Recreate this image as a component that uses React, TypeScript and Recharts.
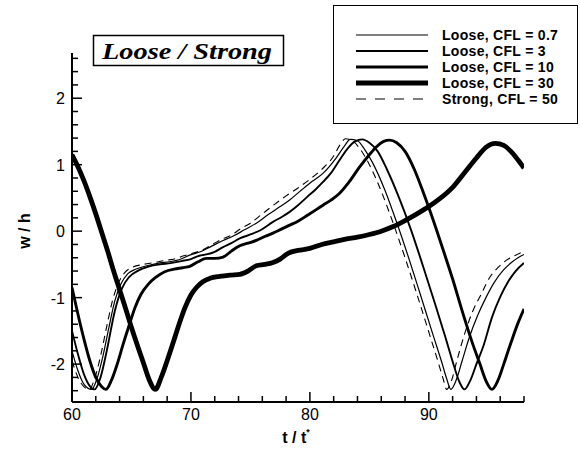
import { Legend, Line, LineChart, XAxis, YAxis } from "recharts";

// Deflection w/h versus t/t* — loose coupling at several CFL numbers vs strong coupling.
// Points are [t/t*, w/h].

const strong50 = [
  [60, -1.95], [60.5, -2.2], [61, -2.34], [61.45, -2.38], [61.9, -2.22], [62.4, -1.88], [62.9, -1.45],
  [63.4, -1.05], [63.9, -0.78], [64.4, -0.63], [65, -0.55], [66, -0.5], [67, -0.47], [67.8, -0.44],
  [68.6, -0.42], [69.4, -0.37], [70.2, -0.33], [71, -0.28], [71.8, -0.2], [72.6, -0.12], [73.4, -0.06],
  [74.2, 0.04], [75, 0.12], [76, 0.26], [77, 0.4], [78, 0.53], [79, 0.65], [80, 0.78], [81, 0.93],
  [82, 1.13], [82.5, 1.29], [83, 1.39], [83.5, 1.37], [84.2, 1.24], [85, 1.0], [86, 0.6], [87, 0.12],
  [88, -0.4], [89, -0.95], [90, -1.52], [90.8, -1.98], [91.2, -2.22], [91.5, -2.38], [91.9, -2.25],
  [92.4, -1.92], [93, -1.55], [93.7, -1.2], [94.4, -0.95], [95.1, -0.7], [95.8, -0.55], [96.5, -0.44],
  [97.2, -0.37], [98, -0.3],
];

const loose07 = [
  [60, -1.8], [60.5, -2.1], [61, -2.3], [61.65, -2.38], [62.1, -2.22], [62.6, -1.88], [63.1, -1.45],
  [63.6, -1.05], [64.1, -0.8], [64.7, -0.64], [65.4, -0.57], [66.3, -0.52], [67.3, -0.48], [68.2, -0.46],
  [69, -0.43], [69.9, -0.36], [70.8, -0.31], [71.6, -0.24], [72.7, -0.14], [73.6, -0.07], [74.5, 0.02],
  [75.5, 0.12], [76.5, 0.25], [77.5, 0.37], [78.3, 0.47], [79.3, 0.62], [80.2, 0.75], [81.1, 0.87],
  [82.2, 1.1], [82.9, 1.28], [83.4, 1.38], [84, 1.36], [84.6, 1.23], [85.3, 1.02], [86.3, 0.62],
  [87.3, 0.13], [88.3, -0.4], [89.3, -0.96], [90.3, -1.53], [91.1, -1.98], [91.5, -2.22], [91.85, -2.38],
  [92.3, -2.24], [92.8, -1.95], [93.4, -1.6], [94.1, -1.27], [94.8, -1.0], [95.5, -0.77], [96.3, -0.58],
  [97.1, -0.45], [98, -0.35],
];

const loose3 = [
  [60, -1.5], [60.5, -1.85], [61, -2.15], [61.5, -2.33], [61.9, -2.38], [62.4, -2.2], [62.9, -1.82],
  [63.6, -1.2], [64.2, -0.86], [64.8, -0.69], [65.6, -0.59], [66.5, -0.53], [67.4, -0.5], [68.3, -0.48],
  [69.2, -0.45], [70, -0.42], [70.7, -0.37], [71.3, -0.35], [72, -0.31], [72.7, -0.24], [73.4, -0.18],
  [74.1, -0.11], [75, -0.05], [75.8, 0.01], [76.9, 0.14], [77.6, 0.21], [78.3, 0.29], [79, 0.39],
  [79.8, 0.52], [80.5, 0.63], [81.1, 0.74], [81.8, 0.88], [82.5, 1.07], [83.2, 1.25], [83.8, 1.35],
  [84.4, 1.38], [85, 1.33], [85.7, 1.2], [86.5, 0.92], [87.5, 0.5], [88.5, 0.02], [89.5, -0.52],
  [90.5, -1.08], [91.4, -1.6], [92.1, -2.02], [92.6, -2.28], [93, -2.38], [93.5, -2.24], [94, -2.0],
  [94.6, -1.72], [95.3, -1.3], [96, -0.99], [96.7, -0.75], [97.3, -0.6], [98, -0.48],
];

const loose10 = [
  [60, -0.85], [60.5, -1.25], [61, -1.62], [61.5, -1.95], [62, -2.2], [62.5, -2.34], [62.85, -2.38],
  [63.3, -2.25], [63.8, -2.0], [64.3, -1.7], [64.8, -1.42], [65.3, -1.15], [65.8, -0.95], [66.4, -0.8],
  [67, -0.7], [67.8, -0.61], [68.6, -0.57], [69.3, -0.55], [69.9, -0.53], [70.6, -0.46], [71.3, -0.41],
  [72, -0.41], [72.7, -0.39], [73.4, -0.3], [74.1, -0.22], [74.8, -0.18], [75.5, -0.14], [76.2, -0.08],
  [76.9, -0.03], [77.6, 0.03], [78.3, 0.09], [79, 0.15], [79.8, 0.24], [80.5, 0.32], [81.1, 0.39],
  [81.8, 0.47], [82.5, 0.57], [83.3, 0.74], [84.2, 0.97], [85, 1.15], [85.6, 1.27], [86.2, 1.35],
  [86.7, 1.37], [87.3, 1.33], [88, 1.2], [88.8, 0.92], [89.6, 0.55], [90.4, 0.15], [91.2, -0.28],
  [92, -0.72], [92.8, -1.2], [93.6, -1.65], [94.3, -2.0], [94.8, -2.25], [95.3, -2.38], [95.8, -2.25],
  [96.3, -2.0], [96.9, -1.68], [97.5, -1.38], [98, -1.17],
];

const loose30 = [
  [60, 1.15], [60.5, 0.97], [61, 0.76], [61.5, 0.52], [62, 0.26], [62.5, -0.02], [63, -0.3], [63.5, -0.6],
  [64, -0.88], [64.5, -1.16], [65, -1.45], [65.5, -1.72], [66, -1.98], [66.5, -2.24], [67, -2.38],
  [67.5, -2.2], [68, -1.95], [68.5, -1.68], [69, -1.4], [69.5, -1.15], [70, -0.96], [70.5, -0.84],
  [71, -0.76], [71.6, -0.71], [72.4, -0.68], [73.3, -0.66], [74.1, -0.65], [74.8, -0.6], [75.5, -0.52],
  [76.2, -0.5], [76.9, -0.47], [77.5, -0.42], [78.2, -0.33], [79, -0.29], [80, -0.26], [81, -0.2],
  [82, -0.16], [83, -0.12], [84, -0.09], [85, -0.05], [86, 0.0], [87, 0.07], [88, 0.16], [89, 0.26],
  [90, 0.37], [91, 0.5], [92, 0.66], [93, 0.88], [94, 1.1], [94.8, 1.26], [95.6, 1.32], [96.3, 1.29],
  [96.9, 1.2], [97.5, 1.07], [98, 0.95],
];

const X_TICKS = [60, 62, 64, 66, 68, 70, 72, 74, 76, 78, 80, 82, 84, 86, 88, 90, 92, 94, 96, 98];
const Y_TICKS = [
  -2.4, -2.2, -2, -1.8, -1.6, -1.4, -1.2, -1, -0.8, -0.6, -0.4, -0.2, 0,
  0.2, 0.4, 0.6, 0.8, 1, 1.2, 1.4, 1.6, 1.8, 2, 2.2, 2.4, 2.6,
];

const SERIES = [
  { name: "Loose, CFL = 0.7", points: loose07, width: 1.2, dash: undefined },
  { name: "Loose, CFL = 3", points: loose3, width: 1.9, dash: undefined },
  { name: "Loose, CFL = 10", points: loose10, width: 2.9, dash: undefined },
  { name: "Loose, CFL = 30", points: loose30, width: 4.8, dash: undefined },
  { name: "Strong, CFL = 50", points: strong50, width: 1.1, dash: "7 5" },
];

const SANS = '"Liberation Sans", Arial, Helvetica, sans-serif';
const SERIF = '"Liberation Serif", "Times New Roman", serif';
const INK = "#000";

const isMajor = (v: number, step: number) => Math.abs(v / step - Math.round(v / step)) < 1e-6;

// ticks point inward (Tecplot style), labels only on the majors
function XTick({ x, y, payload }: any) {
  const v = payload.value as number;
  const major = isMajor(v, 10);
  return (
    <g>
      <line x1={x} x2={x} y1={y} y2={y - (major ? 10 : 6)} stroke={INK} strokeWidth={1.5} />
      {major && (
        <text x={x} y={y + 18} textAnchor="middle" fontSize={16} fontFamily={SANS} fill={INK}>
          {v}
        </text>
      )}
    </g>
  );
}

function YTick({ x, y, payload }: any) {
  const v = payload.value as number;
  const major = isMajor(v, 1);
  return (
    <g>
      <line x1={x} x2={x + (major ? 10 : 6)} y1={y} y2={y} stroke={INK} strokeWidth={1.5} />
      {major && (
        <text x={x - 7} y={y + 6} textAnchor="end" fontSize={16} fontFamily={SANS} fill={INK}>
          {Math.round(v)}
        </text>
      )}
    </g>
  );
}

function LegendBox() {
  return (
    <div
      style={{
        boxSizing: "border-box",
        width: 245,
        height: 119,
        border: `1px solid ${INK}`,
        background: "#fff",
        paddingTop: 21,
        fontFamily: SANS,
      }}
    >
      {SERIES.map((s) => (
        <div key={s.name} style={{ display: "flex", alignItems: "center", height: 16.1 }}>
          <svg width={72} height={10} style={{ marginLeft: 22, marginRight: 14, display: "block" }}>
            <line x1={0} x2={72} y1={5} y2={5} stroke={INK} strokeWidth={s.width} strokeDasharray={s.dash ? "10 9" : undefined} />
          </svg>
          <span style={{ fontSize: 14, letterSpacing: 0.3, fontWeight: 700, color: INK, whiteSpace: "nowrap" }}>{s.name}</span>
        </div>
      ))}
    </div>
  );
}

export default function App() {
  return (
    <div style={{ position: "absolute", left: 0, top: 0, width: 580, height: 456, background: "#fff" }}>
      <LineChart width={580} height={456} margin={{ top: 53, right: 56, bottom: 24, left: 0 }}>
        <XAxis
          type="number"
          dataKey="t"
          domain={[60, 98]}
          ticks={X_TICKS}
          interval={0}
          height={30}
          tickSize={0}
          tickMargin={0}
          tickLine={false}
          axisLine={{ stroke: INK, strokeWidth: 2 }}
          tick={(p: any) => <XTick {...p} />}
          allowDataOverflow
        />
        <YAxis
          type="number"
          dataKey="w"
          domain={[-2.57, 2.68]}
          ticks={Y_TICKS}
          interval={0}
          width={72}
          tickSize={0}
          tickMargin={0}
          tickLine={false}
          axisLine={{ stroke: INK, strokeWidth: 2 }}
          tick={(p: any) => <YTick {...p} />}
          allowDataOverflow
        />
        <Legend
          layout="vertical"
          align="center"
          verticalAlign="middle"
          content={() => <LegendBox />}
          wrapperStyle={{ left: 333, top: 5, width: 245, height: 119 }}
        />
        {SERIES.map((s) => (
          <Line
            key={s.name}
            name={s.name}
            data={s.points.map(([t, w]) => ({ t, w }))}
            dataKey="w"
            type="monotone"
            stroke={INK}
            strokeWidth={s.width}
            strokeDasharray={s.dash}
            dot={false}
            activeDot={false}
            isAnimationActive={false}
          />
        ))}
      </LineChart>

      {/* axis titles and the in-plot caption box */}
      <svg width={580} height={456} style={{ position: "absolute", left: 0, top: 0, pointerEvents: "none" }}>
        <text
          transform="translate(30 231) rotate(-90)"
          textAnchor="middle"
          fontSize={16}
          fontWeight={700}
          fontFamily={SANS}
          fill={INK}
        >
          w / h
        </text>
        <text x={296} y={443} textAnchor="middle" fontSize={16} fontWeight={700} fontFamily={SANS} fill={INK}>
          t / t
          <tspan fontSize={9} dy={-8}>*</tspan>
        </text>
        <rect x={93.5} y={35.5} width={190} height={30} fill="#fff" stroke={INK} strokeWidth={1.5} />
        <text
          x={102}
          y={59}
          fontSize={23}
          fontWeight={700}
          fontStyle="italic"
          fontFamily={SERIF}
          fill={INK}
          textLength={170}
          lengthAdjust="spacingAndGlyphs"
        >
          Loose / Strong
        </text>
      </svg>
    </div>
  );
}
